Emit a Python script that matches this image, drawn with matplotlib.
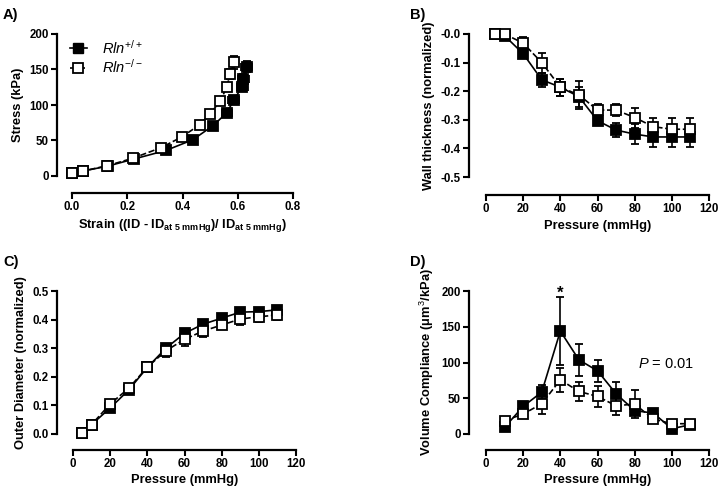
import matplotlib
matplotlib.use('Agg')
import matplotlib.pyplot as plt
from matplotlib.lines import Line2D

plt.rcParams['font.family'] = ['Liberation Sans', 'DejaVu Sans']
plt.rcParams['mathtext.fontset'] = 'custom'
plt.rcParams['mathtext.rm'] = 'Liberation Sans'
plt.rcParams['mathtext.it'] = 'Liberation Sans:italic'
plt.rcParams['mathtext.bf'] = 'Liberation Sans:bold'

# ---- data ----
pressure = [5, 10, 20, 30, 40, 50, 60, 70, 80, 90, 100, 110]
pressure_d = [10, 20, 30, 40, 50, 60, 70, 80, 90, 100, 110]

# A) stress vs strain
strain_wt = [0.0, 0.04, 0.13, 0.225, 0.34, 0.437, 0.511, 0.56, 0.586, 0.616, 0.62, 0.632]
stress_wt = [4, 7, 14, 24, 36, 51, 71, 89, 107, 126, 137, 154]
strain_wt_err = [0.0, 0.0, 0.005, 0.008, 0.01, 0.012, 0.014, 0.018, 0.02, 0.02, 0.02, 0.02]
stress_wt_err = [0, 0, 1, 1, 2, 2, 3, 3, 4, 5, 6, 8]
strain_ko = [0.0, 0.04, 0.128, 0.22, 0.323, 0.397, 0.462, 0.498, 0.536, 0.56, 0.573, 0.586]
stress_ko = [4, 7, 14.5, 25, 40, 55, 72, 87, 105, 125, 144, 160]
strain_ko_err = [0.0, 0.0, 0.004, 0.006, 0.008, 0.008, 0.01, 0.01, 0.01, 0.01, 0.012, 0.012]
stress_ko_err = [0, 0, 1, 1, 2, 2, 3, 3, 4, 5, 7, 9]

# B) wall thickness
wall_wt = [0.0, -0.006, -0.069, -0.16, -0.186, -0.219, -0.303, -0.336, -0.35, -0.36, -0.36, -0.36]
wall_wt_err = [0.0, 0.005, 0.015, 0.025, 0.03, 0.035, 0.01, 0.025, 0.035, 0.035, 0.035, 0.035]
wall_ko = [0.0, 0.0, -0.032, -0.1, -0.186, -0.213, -0.266, -0.266, -0.292, -0.324, -0.333, -0.333]
wall_ko_err = [0.0, 0.0, 0.02, 0.035, 0.03, 0.05, 0.02, 0.02, 0.035, 0.03, 0.04, 0.04]

# C) outer diameter
od_wt = [0.003, 0.033, 0.091, 0.154, 0.233, 0.3, 0.352, 0.384, 0.405, 0.426, 0.428, 0.434]
od_wt_err = [0, 0.003, 0.005, 0.006, 0.008, 0.01, 0.01, 0.01, 0.01, 0.01, 0.01, 0.01]
od_ko = [0.003, 0.033, 0.105, 0.16, 0.234, 0.291, 0.331, 0.36, 0.381, 0.402, 0.41, 0.416]
od_ko_err = [0, 0.003, 0.006, 0.008, 0.01, 0.022, 0.022, 0.02, 0.015, 0.02, 0.02, 0.018]

# D) volume compliance
vc_wt = [9.3, 38.6, 58.6, 144, 103.7, 88.4, 56.3, 32.6, 29.3, 7.4, 13]
vc_wt_err = [3, 5, 10, 47, 22, 15, 17, 6, 4, 3, 3]
vc_ko = [18.6, 27.9, 42.3, 75.8, 59.5, 52.6, 39.5, 41.9, 20.9, 14.4, 14.4]
vc_ko_err = [5, 5, 15, 17, 13, 15, 13, 19, 4, 4, 4]

fig = plt.figure(figsize=(7.22, 4.91), dpi=100)
W, H = 722.0, 491.0


def make_ax(x0, x1, ytop, ybot, off_l, off_b):
    ax = fig.add_axes([x0 / W, 1 - ybot / H, (x1 - x0) / W, (ybot - ytop) / H])
    ax.spines['top'].set_visible(False)
    ax.spines['right'].set_visible(False)
    ax.spines['left'].set_position(('outward', off_l * 0.72))
    ax.spines['bottom'].set_position(('outward', off_b * 0.72))
    for s in ('left', 'bottom'):
        ax.spines[s].set_linewidth(1.6)
    ax.tick_params(direction='out', length=4, width=1.5, labelsize=8.3, pad=2)
    return ax


def draw(ax, x, y, yerr, ls, mfc, xerr=None):
    ax.errorbar(x, y, yerr=yerr, xerr=xerr, fmt='s', linestyle=ls, color='black',
                mfc=mfc, mec='black', ms=6.5, mew=1.3, lw=1.2, elinewidth=1.2,
                capsize=3, capthick=1.2, clip_on=False)


def bold_ticks(ax):
    for lbl in ax.get_xticklabels() + ax.get_yticklabels():
        lbl.set_fontweight('bold')


LBL = dict(fontsize=9.3, fontweight='bold')

# ---- A ----
axA = make_ax(72, 293, 34, 176, 15, 17)
draw(axA, strain_wt, stress_wt, stress_wt_err, '-', 'black', xerr=strain_wt_err)
draw(axA, strain_ko, stress_ko, stress_ko_err, '--', 'white', xerr=strain_ko_err)
axA.set_xlim(0, 0.8)
axA.set_ylim(0, 200)
axA.set_xticks([0.0, 0.2, 0.4, 0.6, 0.8])
axA.set_xticklabels(['0.0', '0.2', '0.4', '0.6', '0.8'])
axA.set_yticks([0, 50, 100, 150, 200])
bold_ticks(axA)
axA.set_ylabel('Stress (kPa)', labelpad=4, **LBL)
axA.set_xlabel(r'Strain ((ID - ID$_{\mathbf{at\ 5\ mmHg}}$)/ ID$_{\mathbf{at\ 5\ mmHg}}$)',
               labelpad=3, **LBL)
h_wt = Line2D([], [], color='black', ls='-', lw=1.2, marker='s', ms=6.5, mfc='black', mec='black')
h_ko = Line2D([], [], color='black', ls='--', lw=1.2, marker='s', ms=6.5, mfc='white', mec='black', mew=1.3)
axA.legend([h_wt, h_ko], [r'$Rln^{+/+}$', r'$Rln^{-/-}$'], loc='upper left',
           bbox_to_anchor=(-0.07, 1.06), frameon=False, fontsize=10.5,
           handlelength=1.2, handletextpad=1.0, labelspacing=0.1)

# ---- B ----
axB = make_ax(486, 709, 34, 177, 17, 18)
draw(axB, pressure, wall_wt, wall_wt_err, '-', 'black')
draw(axB, pressure, wall_ko, wall_ko_err, '--', 'white')
axB.set_xlim(0, 120)
axB.set_ylim(-0.5, 0.0)
axB.set_xticks(range(0, 121, 20))
axB.set_yticks([0.0, -0.1, -0.2, -0.3, -0.4, -0.5])
axB.set_yticklabels(['-0.0', '-0.1', '-0.2', '-0.3', '-0.4', '-0.5'])
bold_ticks(axB)
axB.set_ylabel('Wall thickness (normalized)', labelpad=4, **LBL)
axB.set_xlabel('Pressure (mmHg)', labelpad=3, **LBL)

# ---- C ----
axC = make_ax(73, 296, 291, 434, 16, 16)
draw(axC, pressure, od_wt, od_wt_err, '-', 'black')
draw(axC, pressure, od_ko, od_ko_err, '--', 'white')
axC.set_xlim(0, 120)
axC.set_ylim(0, 0.5)
axC.set_xticks(range(0, 121, 20))
axC.set_yticks([0.0, 0.1, 0.2, 0.3, 0.4, 0.5])
axC.set_yticklabels(['0.0', '0.1', '0.2', '0.3', '0.4', '0.5'])
bold_ticks(axC)
axC.set_ylabel('Outer Diameter (normalized)', labelpad=4, **LBL)
axC.set_xlabel('Pressure (mmHg)', labelpad=3, **LBL)

# ---- D ----
axD = make_ax(486, 709, 291, 434, 17, 16)
draw(axD, pressure_d, vc_wt, vc_wt_err, '-', 'black')
draw(axD, pressure_d, vc_ko, vc_ko_err, '--', 'white')
axD.set_xlim(0, 120)
axD.set_ylim(0, 200)
axD.set_xticks(range(0, 121, 20))
axD.set_yticks([0, 50, 100, 150, 200])
bold_ticks(axD)
axD.set_ylabel(r'Volume Compliance ($\mathbf{\mu}$m$^3$/kPa)', labelpad=4, **LBL)
axD.set_xlabel('Pressure (mmHg)', labelpad=3, **LBL)
axD.text(40, 197, '*', ha='center', va='center', fontsize=12, fontweight='bold')
axD.text(82, 98, r'$P$ = 0.01', ha='left', va='center', fontsize=10.5)

# panel letters
for lbl, x, y in [('A)', 3, 15), ('B)', 410, 15), ('C)', 3, 262), ('D)', 410, 262)]:
    fig.text(x / W, 1 - y / H, lbl, fontsize=10.5, fontweight='bold', va='center', ha='left')

fig.savefig('out.png', dpi=100)
